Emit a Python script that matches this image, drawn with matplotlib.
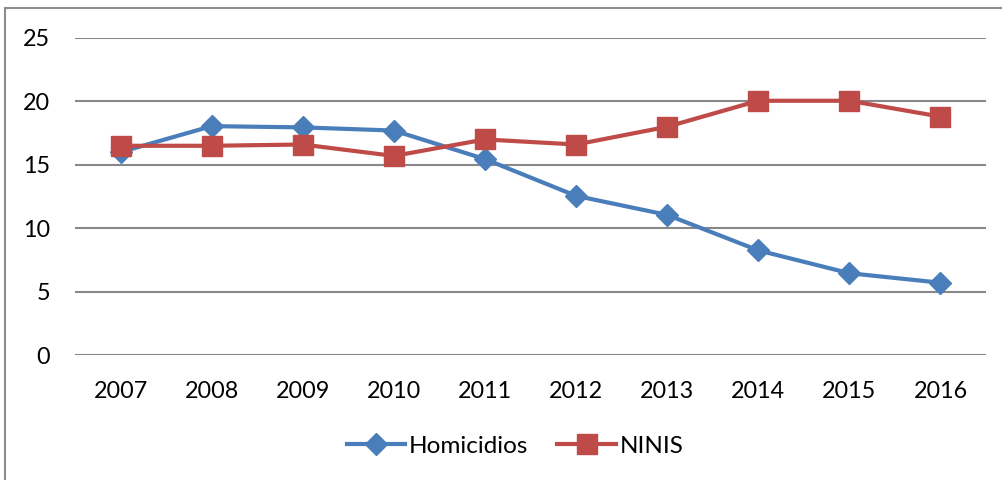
import matplotlib
matplotlib.use("Agg")
import matplotlib.pyplot as plt
from matplotlib.patches import Rectangle

# data
years = ["2007", "2008", "2009", "2010", "2011", "2012", "2013", "2014", "2015", "2016"]
homicidios = [16.0, 18.05, 17.95, 17.7, 15.45, 12.55, 11.05, 8.25, 6.45, 5.7]
ninis = [16.5, 16.5, 16.6, 15.7, 17.0, 16.6, 18.0, 20.05, 20.05, 18.8]
yticks = [0, 5, 10, 15, 20, 25]

BLUE = "#4A7EBB"
RED = "#BE4B48"
GRID = "#888888"

plt.rcParams["font.family"] = ["Lato", "DejaVu Sans"]

fig = plt.figure(figsize=(10.02, 4.8), dpi=100)
ax = fig.add_axes([75 / 1002, 125 / 480, 911 / 1002, 317 / 480])

x = list(range(len(years)))
ax.plot(x, homicidios, color=BLUE, lw=3.0, marker="D", ms=11.5,
        label="Homicidios", zorder=3)
ax.plot(x, ninis, color=RED, lw=3.0, marker="s", ms=14,
        label="NINIS", zorder=4)

ax.set_xlim(-0.5, len(years) - 0.5)
ax.set_ylim(0, 25)
ax.set_xticks(x)
ax.set_xticklabels(years)
ax.set_yticks(yticks)
ax.tick_params(axis="both", length=0, labelsize=16.8, colors="black")
ax.tick_params(axis="x", pad=19)
ax.tick_params(axis="y", pad=18)
ax.yaxis.grid(True, color=GRID, lw=1.5)
ax.set_axisbelow(True)
for s in ax.spines.values():
    s.set_visible(False)

leg = fig.legend(loc="center", bbox_to_anchor=(515 / 1002, 1 - 446 / 480),
                 ncol=2, frameon=False, fontsize=17.5, handlelength=2.4,
                 handletextpad=0.15, columnspacing=1.2)

# outer chart frame (cut off at right and bottom in the reference)
fig.patches.append(Rectangle((5 / 1002, -0.1), 1.2, 1 - 8 / 480 + 0.1,
                             transform=fig.transFigure, fill=False,
                             edgecolor="#8c8c8c", lw=1.5))

fig.savefig("out.png", dpi=100)
